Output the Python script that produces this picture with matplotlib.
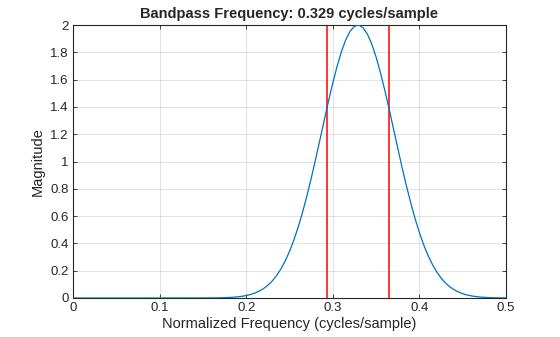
import matplotlib
matplotlib.use("Agg")
import matplotlib.pyplot as plt

plt.rcParams['font.family'] = ['Liberation Sans', 'DejaVu Sans']

title = "Bandpass Frequency: 0.329 cycles/sample"
xlabel = "Normalized Frequency (cycles/sample)"
ylabel = "Magnitude"

freq = [0.0, 0.05, 0.10, 0.145,
        0.150, 0.155, 0.160, 0.165, 0.170, 0.175, 0.180, 0.185, 0.190, 0.195,
        0.200, 0.205, 0.210, 0.215, 0.220, 0.225, 0.230, 0.235, 0.240, 0.245,
        0.250, 0.255, 0.260, 0.265, 0.270, 0.275, 0.280, 0.285, 0.290, 0.295,
        0.300, 0.305, 0.310, 0.315, 0.320, 0.325, 0.330, 0.335, 0.340, 0.345,
        0.350, 0.355, 0.360, 0.365, 0.370, 0.375, 0.380, 0.385, 0.390, 0.395,
        0.400, 0.405, 0.410, 0.415, 0.420, 0.425, 0.430, 0.435, 0.440, 0.445,
        0.450, 0.455, 0.460, 0.465, 0.470, 0.475, 0.480, 0.485, 0.490, 0.495,
        0.500]
magnitude = [0.0, 0.0, 0.0, 0.0001,
             0.0002, 0.0004, 0.0006, 0.0010, 0.0015, 0.0024, 0.0037, 0.0056, 0.0084, 0.0123,
             0.0179, 0.0256, 0.0361, 0.0502, 0.0690, 0.0932, 0.1243, 0.1635, 0.2118, 0.2707,
             0.3410, 0.4237, 0.5188, 0.6264, 0.7456, 0.8751, 1.0126, 1.1552, 1.2996, 1.4411,
             1.5758, 1.6986, 1.8055, 1.8919, 1.9546, 1.9910, 1.9994, 1.9797, 1.9326, 1.8600,
             1.7650, 1.6513, 1.5230, 1.3852, 1.2420, 1.0978, 0.9568, 0.8222, 0.6966, 0.5818,
             0.4791, 0.3890, 0.3114, 0.2458, 0.1912, 0.1468, 0.1110, 0.0828, 0.0609, 0.0441,
             0.0315, 0.0222, 0.0154, 0.0106, 0.0071, 0.0048, 0.0031, 0.0020, 0.0013, 0.0008,
             0.0005]
band_edges = [0.2938, 0.3644]

xticks = [0, 0.1, 0.2, 0.3, 0.4, 0.5]
xticklabels = ["0", "0.1", "0.2", "0.3", "0.4", "0.5"]
yticks = [0, 0.2, 0.4, 0.6, 0.8, 1.0, 1.2, 1.4, 1.6, 1.8, 2.0]
yticklabels = ["0", "0.2", "0.4", "0.6", "0.8", "1", "1.2", "1.4", "1.6", "1.8", "2"]

fig = plt.figure(figsize=(5.6, 3.37), dpi=100)
ax = fig.add_axes([73/560, 1 - 298/337, (506-73)/560, (298-25)/337])

ax.plot(freq, magnitude, color='#0072BD', lw=0.9, zorder=3)
for e in band_edges:
    ax.axvline(e, color='#FF0000', lw=1.1, zorder=2)

ax.set_xlim(0, 0.5)
ax.set_ylim(0, 2)
ax.set_xticks(xticks)
ax.set_xticklabels(xticklabels)
ax.set_yticks(yticks)
ax.set_yticklabels(yticklabels)
ax.grid(True, color='#262626', alpha=0.15, lw=0.6)
ax.set_axisbelow(True)

dark = '#262626'
for s in ax.spines.values():
    s.set_color(dark)
    s.set_linewidth(0.8)
ax.tick_params(direction='in', length=3, width=0.6, colors=dark, labelsize=9.5,
               top=True, right=True, labeltop=False, labelright=False, pad=3)

ax.set_xlabel(xlabel, fontsize=10.5, color=dark, labelpad=2)
ax.set_ylabel(ylabel, fontsize=10.5, color=dark, labelpad=4)
ax.set_title(title, fontsize=10.5, fontweight='bold', color=dark, pad=5)

fig.savefig("out.png", dpi=100)
